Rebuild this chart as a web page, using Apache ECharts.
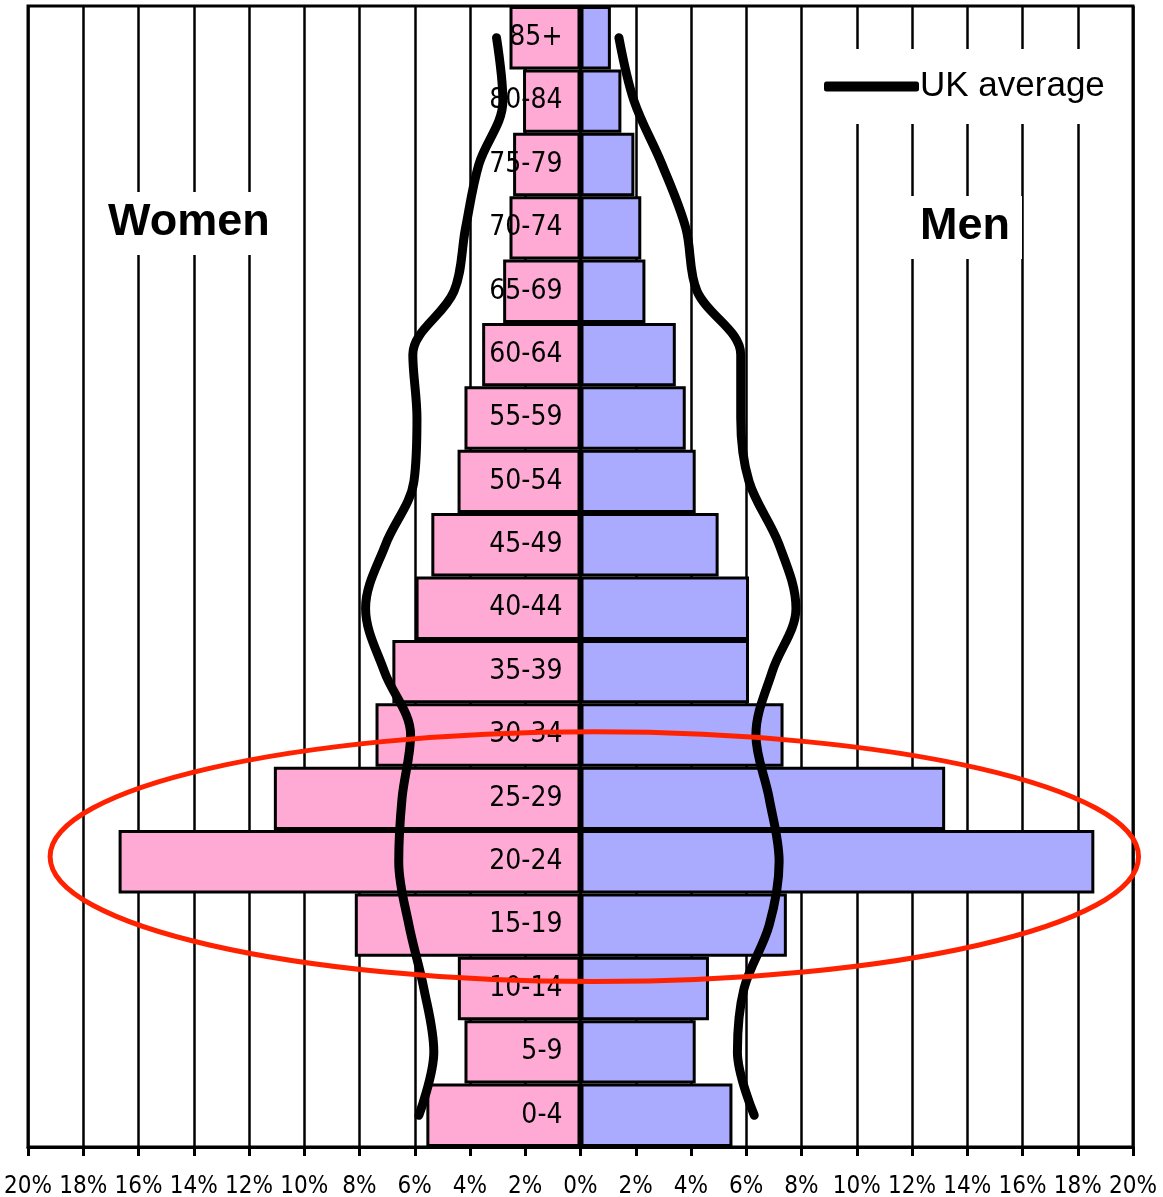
<!DOCTYPE html>
<html>
<head>
<meta charset="utf-8">
<script src="https://cdn.jsdelivr.net/npm/echarts@6/dist/echarts.min.js"></script>
<style>
  html, body { margin: 0; padding: 0; background: #fff; }
  #chart { width: 1163px; height: 1197px; }
</style>
</head>
<body>
<div id="chart"></div>
<script>
// age groups, bottom to top
var ageGroups = ['0-4', '5-9', '10-14', '15-19', '20-24', '25-29', '30-34', '35-39', '40-44',
  '45-49', '50-54', '55-59', '60-64', '65-69', '70-74', '75-79', '80-84', '85+'];

// share of population, %
var women = [5.58, 4.2, 4.44, 8.17, 16.72, 11.1, 7.42, 6.81, 5.97, 5.4, 4.45, 4.2, 3.56, 2.8, 2.57, 2.44, 2.08, 2.57];
var men = [5.5, 4.17, 4.65, 7.47, 18.6, 13.2, 7.35, 6.1, 6.1, 5.0, 4.17, 3.81, 3.45, 2.35, 2.2, 1.95, 1.48, 1.1];

// UK average
var ukWomen = [5.85, 5.31, 5.67, 6.21, 6.58, 6.46, 6.15, 7.1, 7.78, 7.06, 6.03, 5.92, 6.07, 4.58, 4.16, 3.68, 2.81, 3.04];
var ukMen = [6.29, 5.68, 5.92, 6.83, 7.19, 6.83, 6.35, 6.94, 7.8, 7.19, 6.1, 5.8, 5.8, 4.22, 3.81, 2.95, 1.94, 1.39];

var axisFont = "'DejaVu Sans Condensed', 'Liberation Sans Narrow', 'DejaVu Sans', sans-serif";

var chartW = 1163, gridLeft = 28, gridRight = 30;
// move the category axis from the left edge to the 0% line
var zeroOffset = -(chartW - gridLeft - gridRight) / 2;

var chart = echarts.init(document.getElementById('chart'));

var option = {
  animation: false,
  grid: {
    left: gridLeft,
    right: gridRight,
    top: 6,
    bottom: 50,
    containLabel: false,
    outerBoundsMode: 'none',
    show: true,
    borderColor: '#000',
    borderWidth: 3
  },
  legend: {
    data: ['UK average'],
    left: 810,
    top: 49,
    padding: [20, 22, 20, 14],
    backgroundColor: '#fff',
    icon: 'roundRect',
    itemWidth: 95,
    itemHeight: 10,
    itemGap: 0,
    z: 6,
    textStyle: {
      fontFamily: "'Liberation Sans', Arial, sans-serif",
      fontSize: 35,
      color: '#000',
      padding: [0, 0, 0, -4]
    }
  },
  xAxis: {
    type: 'value',
    min: -20,
    max: 20,
    interval: 2,
    axisLine: { show: true, lineStyle: { color: '#000', width: 3 } },
    axisTick: { show: true, length: 9, lineStyle: { color: '#000', width: 3 } },
    splitLine: { show: true, lineStyle: { color: '#000', width: 2.5 } },
    axisLabel: {
      formatter: function (v) { return Math.abs(v) + '%'; },
      color: '#000',
      fontFamily: axisFont,
      fontSize: 24,
      margin: 28
    }
  },
  yAxis: {
    type: 'category',
    data: ageGroups,
    position: 'left',
    offset: zeroOffset,
    z: 5,
    axisLine: { show: true, onZero: false, lineStyle: { color: '#000', width: 2.5 } },
    axisTick: { show: false },
    splitLine: { show: false },
    axisLabel: {
      color: '#000',
      fontFamily: axisFont,
      fontSize: 28,
      margin: 18
    }
  },
  series: [
    {
      name: 'Women',
      type: 'bar',
      barGap: '-100%',
      barCategoryGap: '0%',
      itemStyle: { color: '#ffaad4', borderColor: '#000', borderWidth: 3 },
      data: women.map(function (v) { return -v; })
    },
    {
      name: 'Men',
      type: 'bar',
      barGap: '-100%',
      barCategoryGap: '0%',
      itemStyle: { color: '#aaaaff', borderColor: '#000', borderWidth: 3 },
      data: men
    },
    {
      name: 'UK average',
      type: 'line',
      smooth: 0.35,
      symbol: 'none',
      itemStyle: { color: '#000' },
      lineStyle: { color: '#000', width: 9, cap: 'round', join: 'round' },
      data: ukWomen.map(function (v) { return -v; })
    },
    {
      name: 'UK average',
      type: 'line',
      smooth: 0.35,
      symbol: 'none',
      itemStyle: { color: '#000' },
      lineStyle: { color: '#000', width: 9, cap: 'round', join: 'round' },
      data: ukMen
    }
  ]
};

chart.setOption(option);

// annotations: the two labels and the red ring round the student ages
var boldFont = "bold 45px 'Liberation Sans', Arial, sans-serif";
var y2024 = chart.convertToPixel({ yAxisIndex: 0 }, '20-24');
var y2529 = chart.convertToPixel({ yAxisIndex: 0 }, '25-29');
var row = y2024 - y2529;
var cx = chart.convertToPixel({ xAxisIndex: 0 }, 0.5);
var rx = chart.convertToPixel({ xAxisIndex: 0 }, 20.2) - cx;

chart.setOption({
  graphic: [
    {
      type: 'text',
      left: 94,
      top: 192,
      z: 10,
      style: {
        text: 'Women',
        font: boldFont,
        fill: '#000',
        backgroundColor: '#fff',
        padding: [8, 14, 10, 14]
      }
    },
    {
      type: 'text',
      left: 908,
      top: 196,
      z: 10,
      style: {
        text: 'Men',
        font: boldFont,
        fill: '#000',
        backgroundColor: '#fff',
        padding: [8, 12, 10, 12]
      }
    },
    {
      type: 'ellipse',
      z: 20,
      shape: { cx: cx, cy: y2024 - row * 0.08, rx: rx, ry: row * 1.97 },
      style: { fill: null, stroke: '#ff2200', lineWidth: 5 }
    }
  ]
});
</script>
</body>
</html>
